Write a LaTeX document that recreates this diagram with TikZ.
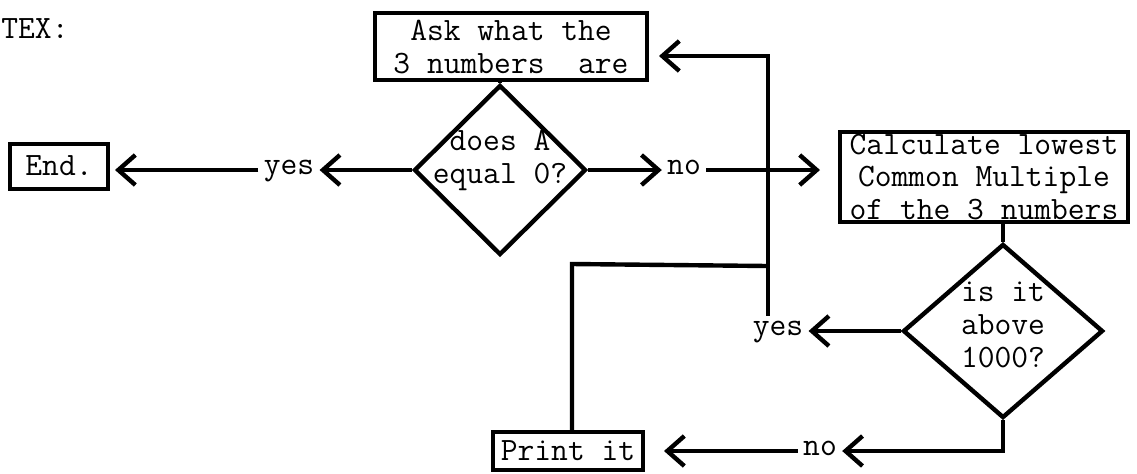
\documentclass[tikz,border=0pt]{standalone}
\usetikzlibrary{arrows.meta,shapes.geometric}
\tikzset{
  box/.style={draw, line width=2pt, inner sep=1pt, align=center},
  dia/.style={draw, diamond, line width=2.2pt, inner sep=0pt},
  lbl/.style={inner sep=2.5pt, anchor=mid},
  wire/.style={line width=2.2pt},
  arr/.style={wire, -{Straight Barb[length=8.5pt,width=15pt]}},
}
\begin{document}
\begin{tikzpicture}[x=0.5pt, y=-0.5pt, font=\fontsize{16.3}{16.5}\selectfont\ttfamily]
  \useasboundingbox (0,0) rectangle (1137,473);
  \node[anchor=base west, inner sep=0pt] (tex) at (1,38) {TEX:};
  \node[box, minimum width=136pt, minimum height=33.5pt] (ask) at (511,46.5) {Ask what the\\3 numbers~~are};
  \node[box, minimum width=49pt, minimum height=22.5pt] (stop) at (59,166) {End.};
  \node[dia, minimum width=86pt, minimum height=85pt,
        label={[align=center, yshift=5pt]center:does A\\equal 0?}] (q1) at (500,170) {};
  \node[box, inner ysep=1.2pt, minimum width=144pt, minimum height=41pt,
        font=\fontsize{16.3}{16.3}\selectfont\ttfamily] (calc) at (984,177) {Calculate lowest\\Common Multiple\\of the 3 numbers};
  \node[dia, minimum width=100pt, minimum height=87pt,
        label={[align=center, yshift=3pt]center:is it\\above\\1000?}] (q2) at (1003,331) {};
  \node[box, minimum width=75pt, minimum height=19pt] (print) at (568,451) {Print it};
  \node[lbl] (yes1) at (289,170) {yes};
  \node[lbl] (no1) at (684,170) {no};
  \node[lbl] (yes2) at (778,331) {yes};
  \node[lbl] (no2) at (820,451) {no};
  \coordinate (loop) at (768,56);
  \coordinate (join) at (768,266);
  \coordinate (back) at (572,264);

  \draw[wire] (ask.south -| q1.north) -- (q1.north);
  \draw[arr] (q1.west) -- (yes1.east |- q1.west);
  \draw[arr, shorten >=2.5pt] (yes1.west |- q1.west) -- (stop.east |- q1.west);
  \draw[arr] (q1.east) -- (no1.west |- q1.east);
  \draw[arr, shorten >=9pt] (no1.east |- q1.east) -- (calc.west |- q1.east);
  \draw[wire] (calc.south -| q2.north) -- (q2.north);
  \draw[arr] (q2.west) -- (yes2.east |- q2.west);
  \draw[arr, shorten >=5pt] (join |- yes2.north) -- (loop) -- (ask.east |- loop);
  \draw[wire] (print.north -| back) -- (back) -- (join);
  \draw[arr] (q2.south) |- (no2.east |- print.east);
  \draw[arr, shorten >=9.5pt] (no2.west |- print.east) -- (print.east);
\end{tikzpicture}
\end{document}
